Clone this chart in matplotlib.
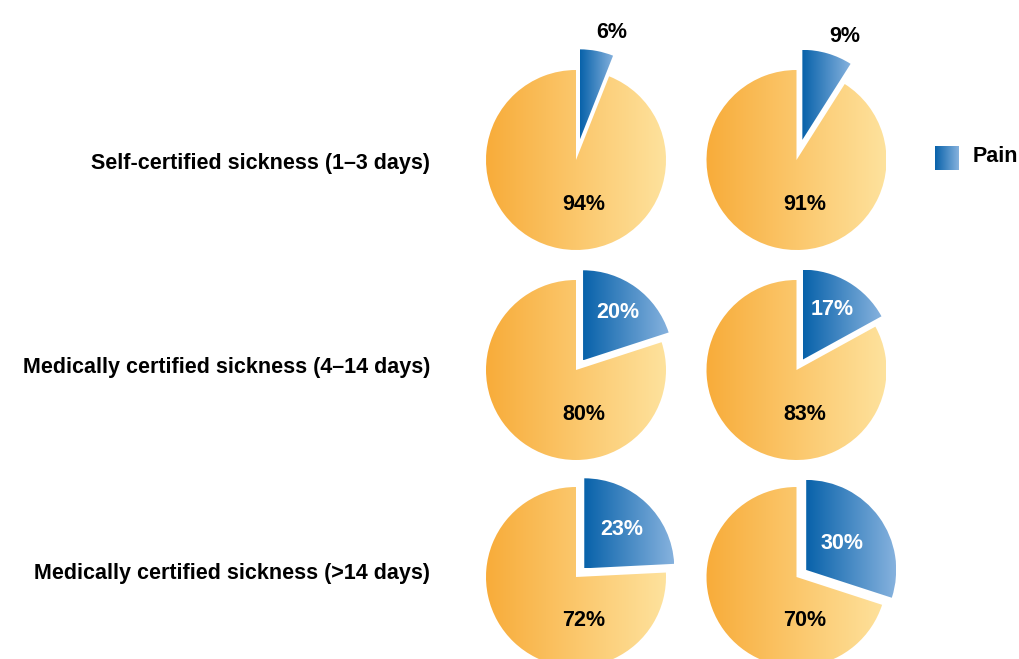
import numpy as np
import matplotlib
matplotlib.use('Agg')
import matplotlib.pyplot as plt
from matplotlib.colors import LinearSegmentedColormap

# data
row_labels = ["Self-certified sickness (1\u20133 days)",
              "Medically certified sickness (4\u201314 days)",
              "Medically certified sickness (>14 days)"]
pain_left = [6, 20, 23]
other_left = [94, 80, 72]
pain_right = [9, 17, 30]
other_right = [91, 83, 70]
legend_label = "Pain"

plt.rcParams['font.family'] = ['Liberation Sans', 'DejaVu Sans']

W, H = 1020, 659
orange_cmap = LinearSegmentedColormap.from_list("or", ["#F8AC3A", "#FEE29D"])
blue_cmap = LinearSegmentedColormap.from_list("bl", ["#0862AA", "#86B2DE"])
grad = np.linspace(0, 1, 256).reshape(1, -1)

fig = plt.figure(figsize=(W / 100, H / 100), dpi=100)
ax = fig.add_axes([0, 0, 1, 1])

R = 90
col_x = [576, 796.5]
row_y = [160, 370, 577]  # pixel rows from top


def fill_gradient(patch, cmap, x0, x1, y0, y1):
    patch.set_facecolor('none')
    patch.set_edgecolor('none')
    im = ax.imshow(grad, cmap=cmap, extent=(x0, x1, y0, y1), aspect='auto',
                   interpolation='bilinear', zorder=2)
    im.set_clip_path(patch)


def draw_pie(cx, cy_pix, pain, other):
    cy = H - cy_pix
    small = pain < 10
    # explode is in data units here (radius is in pixels)
    wedges, _ = ax.pie([pain, other], startangle=90, counterclock=False,
                       radius=R, center=(cx, cy),
                       explode=[21 if small else 12, 0],
                       wedgeprops=dict(linewidth=0))
    wb, wo = wedges
    ext = wb.get_path().get_extents()
    fill_gradient(wb, blue_cmap, ext.x0, ext.x1, ext.y0, ext.y1)
    fill_gradient(wo, orange_cmap, cx - R, cx + R, cy - R, cy + R)

    # labels
    ax.text(cx + 8, cy - 44, f"{other}%", ha='center', va='center',
            fontsize=15.5, fontweight='bold', color='black', zorder=5)
    mid = (wb.theta1 + wb.theta2) / 2
    if small:
        a = np.deg2rad(mid - 5)
        px = cx + 1.47 * R * np.cos(a)
        py = cy + 1.47 * R * np.sin(a)
        ax.text(px, py, f"{pain}%", ha='center', va='center',
                fontsize=15.5, fontweight='bold', color='black', zorder=5)
    else:
        frac = pain / (pain + other)
        d = R * min(0.65, 1.02 - 1.75 * frac)
        a = np.deg2rad(mid)
        bx, by = wb.center
        px = bx + d * np.cos(a)
        py = by + d * np.sin(a)
        ax.text(px, py, f"{pain}%", ha='center', va='center',
                fontsize=15.5, fontweight='bold', color='white', zorder=5)


for i in range(3):
    draw_pie(col_x[0], row_y[i], pain_left[i], other_left[i])
    draw_pie(col_x[1], row_y[i], pain_right[i], other_right[i])

row_text_y = [163, 367, 574]
for i, lab in enumerate(row_labels):
    ax.text(430, H - row_text_y[i], lab, ha='right', va='center',
            fontsize=15.5, fontweight='bold', color='black')

# legend
sq = plt.Rectangle((935, H - 170), 24, 24)
ax.add_patch(sq)
fill_gradient(sq, blue_cmap, 935, 959, H - 170, H - 146)
ax.text(973, H - 157, legend_label, ha='left', va='center',
        fontsize=15.5, fontweight='bold', color='black')

ax.set_xlim(0, W)
ax.set_ylim(0, H)
ax.set_aspect('auto')
ax.axis('off')

fig.savefig("out.png", dpi=100, facecolor='white')
